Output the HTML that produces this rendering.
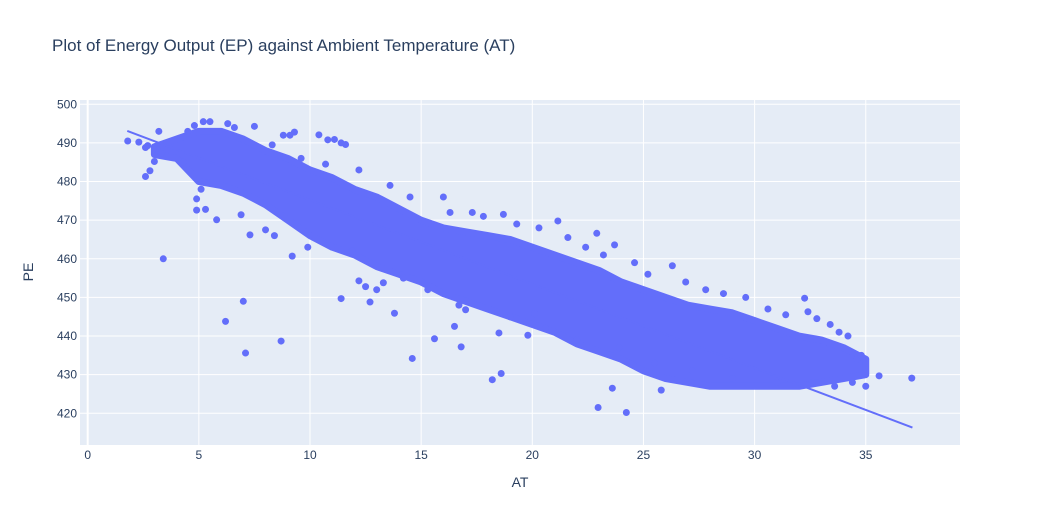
<!DOCTYPE html>
<html><head><meta charset="utf-8"><style>
body{margin:0;background:#fff;}
svg text{font-family:"Liberation Sans",sans-serif;fill:#2a3f5f;}
</style></head><body>
<svg id="chart" width="1039" height="525" xmlns="http://www.w3.org/2000/svg">
<text x="52" y="51" font-size="17">Plot of Energy Output (EP) against Ambient Temperature (AT)</text>
<rect x="80" y="100" width="880" height="345" fill="#e5ecf6"/>
<g id="grid"></g><g id="ticks"></g><g id="marks"></g>
<text x="520" y="487" font-size="14" text-anchor="middle">AT</text>
<text x="33" y="272" font-size="14" text-anchor="middle" transform="rotate(-90 33 272)">PE</text>
</svg>
<script>
const xTicks=[0,5,10,15,20,25,30,35];
const yTicks=[420,430,440,450,460,470,480,490,500];
const bandAT=[3,4,5,6,7,8,9,10,11,12,13,14,15,16,17,18,19,20,21,22,23,24,25,26,27,28,29,30,31,32,33,34,35];
const bandUpper=[489,491,493,493,491,488,486,483,481,478,476,473,470,468,467,466,465,463,461,459,457,454,452,450,448,447,446,444,442,440,439,437,434];
const bandLower=[487,486,480,479,477,474,470,466,463,461,458,456,454,451,449,447,445,443,441,438,436,434,431,429,428,427,427,427,427,427,428,429,430];
const outAT=[1.8,2.3,2.6,2.7,2.6,2.8,3.0,3.3,3.2,3.4,4.9,5.3,4.9,5.8,7.0,6.2,7.1,8.7,9.2,7.3,6.9,8.0,9.3,8.8,9.1,10.4,10.8,11.1,11.4,11.6,11.4,12.2,12.7,12.5,13.0,13.3,13.8,14.6,15.6,16.5,16.8,18.2,18.6,17.0,18.5,19.8,12.2,16.0,21.15,22.9,23.7,26.3,32.25,32.4,32.8,35.6,37.07,22.96,24.23,23.6,25.8,20.1,34.6,35.0,5.5,6.3,7.5,
4.5,4.8,5.2,6.6,8.3,9.6,10.7,13.6,14.5,16.3,17.3,17.8,18.7,19.3,20.3,21.6,22.4,23.2,24.6,25.2,26.9,27.8,28.6,29.6,30.6,31.4,33.4,33.8,34.2,34.8,19.0,20.6,22.0,23.9,25.5,27.2,29.0,31.0,32.6,33.6,34.4,11.9,14.2,15.3,16.7,9.9,8.4,5.1,4.3];
const outPE=[490.5,490.2,488.8,489.3,481.3,482.8,485.2,487.3,493,460,472.6,472.8,475.5,470.1,449,443.8,435.6,438.7,460.7,466.2,471.4,467.5,492.8,492,492,492.1,490.8,490.9,490,489.6,449.7,454.3,448.8,452.8,452,453.8,445.9,434.2,439.3,442.5,437.2,428.7,430.3,446.8,440.8,440.2,483,476,469.8,466.6,463.6,458.2,449.8,446.3,444.5,429.7,429.1,421.5,420.2,426.5,426,445.8,434,427,495.5,495,494.3,
493,494.5,495.5,494,489.5,486,484.5,479,476,472,472,471,471.5,469,468,465.5,463,461,459,456,454,452,451,450,447,445.5,443,441,440,435,445,442,439,437,433,431,429,428,428,427,428,462,455,452,448,463,466,478,485];
const fitAT=[1.78,37.1];
const fitPE=[493.1,416.3];
const NS="http://www.w3.org/2000/svg";
const X=v=>87.7+v*22.23, Y=v=>104.3+(500-v)*3.8625;
function mk(t,a,p){const e=document.createElementNS(NS,t);for(const k in a)e.setAttribute(k,a[k]);p.appendChild(e);return e;}
const grid=document.getElementById('grid'),ticks=document.getElementById('ticks'),marks=document.getElementById('marks');
xTicks.forEach(v=>{const l=mk('line',{x1:X(v),x2:X(v),y1:100,y2:445,stroke:'#fff','stroke-width':v===0?2:1},grid);


const t=mk('text',{x:X(v),y:459,'font-size':12,'text-anchor':'middle'},ticks);t.textContent=v;

});
yTicks.forEach(v=>{const l=mk('line',{x1:80,x2:960,y1:Y(v),y2:Y(v),stroke:'#fff','stroke-width':1},grid);


const t=mk('text',{x:77,y:Y(v)+4,'font-size':12,'text-anchor':'end'},ticks);t.textContent=v;

});
let pts=bandAT.map((a,i)=>X(a)+','+Y(bandUpper[i]));
for(let i=bandAT.length-1;i>=0;i--)pts.push(X(bandAT[i])+','+Y(bandLower[i]));
const band=mk('polygon',{points:pts.join(' '),fill:'#636efa',stroke:'#636efa','stroke-width':7,'stroke-linejoin':'round'},marks);


outAT.forEach((a,i)=>{const c=mk('circle',{cx:X(a),cy:Y(outPE[i]),r:3.5,fill:'#636efa'},marks);

});
const fl=mk('line',{x1:X(fitAT[0]),y1:Y(fitPE[0]),x2:X(fitAT[1]),y2:Y(fitPE[1]),stroke:'#636efa','stroke-width':2},marks);


</script>
</body></html>
